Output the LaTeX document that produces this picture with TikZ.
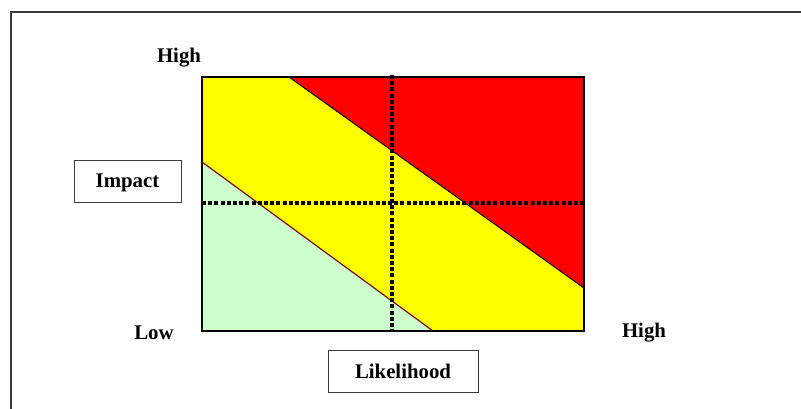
\documentclass[tikz,border=0pt]{standalone}
\usepackage{fontspec}
\setmainfont{Liberation Serif}
\usepackage{xcolor}
\definecolor{riskhigh}{HTML}{FF0000}
\definecolor{riskmed}{HTML}{FFFF00}
\definecolor{risklow}{HTML}{CCFFCC}
\definecolor{lowedge}{HTML}{7A1010}
\definecolor{framegray}{HTML}{3A3A3A}
\usetikzlibrary{positioning}

\begin{document}
\begin{tikzpicture}[
  x=0.5pt, y=-0.5pt,
  every node/.style={font=\fontsize{10.4}{12}\selectfont\bfseries},
  axislabel/.style={inner sep=0pt, yshift=-1.2pt},
  axisbox/.style={draw=framegray, line width=0.5pt, inner sep=0pt,
                  text depth=0pt, minimum height=21pt},
  crossline/.style={line width=1.7pt, dash pattern=on 2pt off 1.1pt}
]
  \useasboundingbox (0,0) rectangle (801,408);

  % outer frame
  \draw[framegray, line width=0.8pt] (11,12) rectangle (820,430);

  % grid corners
  \coordinate (sw) at (202,331);
  \coordinate (ne) at (584,77);

  % risk zones
  \fill[riskmed] (sw) rectangle (ne);
  \fill[riskhigh] (289,77) -- (ne) -- (584,288) -- cycle;
  \draw[black, line width=0.5pt] (289,77) -- (584,288);
  \fill[risklow] (202,162) -- (433,331) -- (sw) -- cycle;
  \draw[lowedge, line width=0.6pt] (202,162) -- (433,331);
  \draw[black, line width=0.6pt] (sw) rectangle (ne);

  % cross lines
  \coordinate (vtop) at (392,75);
  \coordinate (vbot) at (392,331);
  \coordinate (hleft) at (202,203);
  \coordinate (hright) at (584,203);
  \draw[crossline] (vtop) -- (vbot);
  \draw[crossline] (hleft) -- (hright);

  % labels
  \node[axislabel] (ytop) at (179,55) {High};
  \node[axislabel] (ylow) at (154,330) {Low};
  \node[axislabel] (xhigh) at (644,330) {High};
  \node[axisbox, minimum width=53.5pt] (impact) at (127.5,181) {Impact};
  \node[axisbox, minimum width=75pt] (likelihood) at (403,371.5) {Likelihood};
\end{tikzpicture}
\end{document}
